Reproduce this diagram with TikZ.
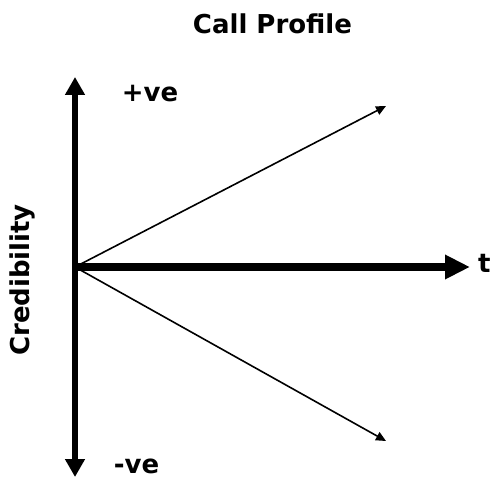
\documentclass[tikz,border=0pt]{standalone}
\usepackage{fontspec}
\setmainfont{DejaVu Sans}
\usetikzlibrary{arrows.meta}
\begin{document}
\begin{tikzpicture}[x=1pt,y=-1pt,
  lbl/.style={inner sep=0pt,font=\fontsize{26}{30}\selectfont\bfseries},
  vaxis/.style={line width=6pt,{Triangle[length=18pt,width=19pt]}-{Triangle[length=18pt,width=19pt]}},
  haxis/.style={line width=8pt,-{Triangle[length=25pt,width=23pt]}},
  ray/.style={line width=1.6pt,-{Triangle[length=10pt,width=9pt]}}]
\useasboundingbox (0,0) rectangle (490,478);
\coordinate (O) at (75,267);
\coordinate (top) at (75,77);
\coordinate (bot) at (75,477);
\coordinate (right) at (470,267);
\coordinate (ur) at (386,106);
\coordinate (lr) at (386,441);
\draw[vaxis] (bot) -- (top);
\draw[ray] (O) -- (ur);
\draw[ray] (O) -- (lr);
\draw[haxis] (O) -- (right);
\node[lbl,anchor=base] (title) at (272.5,34) {Call Profile};
\node[lbl,anchor=base] (pos) at (150,102) {+ve};
\node[lbl,anchor=base] (neg) at (136.5,473) {-ve};
\node[lbl,anchor=base west] (t) at (478,273) {t};
\node[lbl,rotate=90] (cred) at (22,280) {Credibility};
\end{tikzpicture}
\end{document}
